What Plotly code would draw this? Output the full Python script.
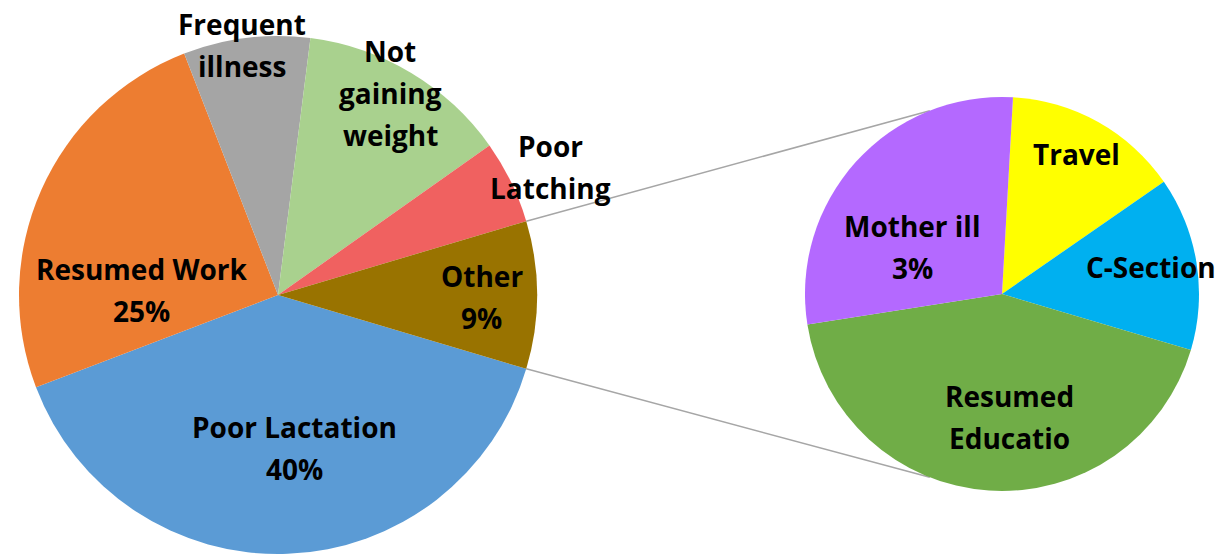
import math
import plotly.graph_objects as go

# ---------------- data ----------------
main_labels = ["Poor Lactation", "Resumed Work", "Frequent illness",
               "Not gaining weight", "Poor Latching", "Other"]
main_values = [39.6, 24.9, 7.9, 13.2, 5.2, 9.2]
main_colors = ["#5B9BD5", "#ED7D31", "#A5A5A5", "#A9D18E", "#F06160", "#997300"]
main_show_pct = [True, True, False, False, False, True]
main_text_lines = [["Poor Lactation"], ["Resumed Work"], ["Frequent", "illness"],
                   ["Not", "gaining", "weight"], ["Poor", "Latching"], ["Other"]]

sub_labels = ["Travel", "C-Section", "Resumed Educatio", "Mother ill"]
sub_values = [1.33, 1.31, 3.95, 2.61]
sub_colors = ["#FFFF00", "#00B0F0", "#70AD47", "#B469FF"]
sub_show_pct = [False, False, False, True]
sub_text_lines = [["Travel"], ["C-Section"], ["Resumed", "Educatio"], ["Mother ill"]]

# ---------------- layout geometry (pixels) ----------------
W, H = 1229, 557
MAIN_C, MAIN_R = (278, 295), 259
SUB_C, SUB_R = (1002, 294), 197
FS = 28
LINE_GAP = 42
main_label_pos = [(294, 438), (141, 280), (242, 35), (390, 62), (550, 157), (482, 287)]
sub_label_pos = [(1076, 165), (1151, 278), (1010, 407), (912, 237)]


def px_x(x):
    return x / W


def px_y(y):
    return 1 - y / H


def domain(c, r):
    return dict(x=[px_x(c[0] - r), px_x(c[0] + r)],
                y=[px_y(c[1] + r), px_y(c[1] - r)])


total = sum(main_values)
other_frac = main_values[-1] / total
main_rotation = 90 + other_frac * 180
sub_rotation = 3.2

fig = go.Figure()
fig.add_trace(go.Pie(
    labels=main_labels, values=main_values, sort=False, direction="clockwise",
    rotation=main_rotation, marker=dict(colors=main_colors, line=dict(width=0)),
    textinfo="none", domain=domain(MAIN_C, MAIN_R), showlegend=False,
    hoverinfo="label+percent"))
fig.add_trace(go.Pie(
    labels=sub_labels, values=sub_values, sort=False, direction="clockwise",
    rotation=sub_rotation, marker=dict(colors=sub_colors, line=dict(width=0)),
    textinfo="none", domain=domain(SUB_C, SUB_R), showlegend=False,
    hoverinfo="label+value"))

# connector lines from the "Other" slice edges to the secondary pie
def pt(c, r, ang):
    a = math.radians(ang)
    return (c[0] + r * math.sin(a), c[1] - r * math.cos(a))

half = other_frac * 180
for m_ang, s_ang in [(90 - half, 338.5), (90 + half, 201.5)]:
    p0 = pt(MAIN_C, MAIN_R, m_ang)
    p1 = pt(SUB_C, SUB_R, s_ang)
    fig.add_shape(type="line", xref="paper", yref="paper",
                  x0=px_x(p0[0]), y0=px_y(p0[1]), x1=px_x(p1[0]), y1=px_y(p1[1]),
                  line=dict(color="#A6A6A6", width=1.5), layer="below")

font = dict(family="Open Sans", size=FS, color="#000000")


def add_label(lines, pos):
    cx, base = pos
    for i, t in enumerate(lines):
        yb = base + i * LINE_GAP
        fig.add_annotation(text="<b>%s</b>" % t, x=px_x(cx), y=px_y(yb - 0.388 * FS),
                           xref="paper", yref="paper", xanchor="center", yanchor="middle",
                           showarrow=False, font=font)


for lab, v, show, lines, pos in zip(main_labels, main_values, main_show_pct,
                                    main_text_lines, main_label_pos):
    ls = list(lines)
    if show:
        ls.append("%d%%" % round(v / total * 100))
    add_label(ls, pos)

for lab, v, show, lines, pos in zip(sub_labels, sub_values, sub_show_pct,
                                    sub_text_lines, sub_label_pos):
    ls = list(lines)
    if show:
        ls.append("%d%%" % round(v / total * 100))
    add_label(ls, pos)

fig.update_layout(width=W, height=H, margin=dict(l=0, r=0, t=0, b=0),
                  paper_bgcolor="white", plot_bgcolor="white")
fig.write_html("out.html", config={"displayModeBar": False},
               post_script="document.body.style.margin='0';")
